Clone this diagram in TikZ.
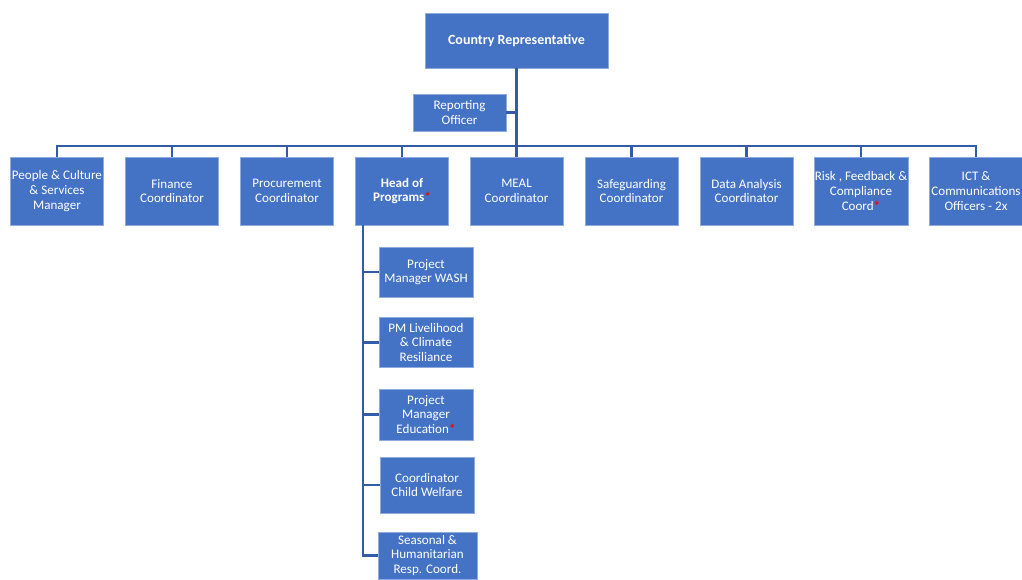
\documentclass[tikz,border=0pt]{standalone}
\usepackage{fontspec}
\setmainfont{Carlito}
\usepackage{xcolor}
\usepackage{tikz}
\usetikzlibrary{positioning}

\definecolor{boxblue}{HTML}{4472C4}
\definecolor{lineblue}{HTML}{335CA8}
\definecolor{edgeblue}{HTML}{8FAADC}
\newcommand{\redstar}{\textcolor{red}{\textbf{*}}}

\begin{document}
\begin{tikzpicture}[
      x=0.75pt, y=-0.75pt,
      every node/.style={font=\fontsize{9.8}{11}\selectfont, text=white, align=center},
      role/.style={rectangle, fill=boxblue, draw=edgeblue, line width=0.4pt,
        minimum width=69.75pt, minimum height=51pt, inner sep=0.5pt},
      subrole/.style={role, minimum width=70.5pt, minimum height=37.5pt},
      link/.style={draw=lineblue, line width=1.6pt}
    ]
      \useasboundingbox (0,0) rectangle (1022,579);

      % top
      \node[role, minimum width=137.25pt, minimum height=41.25pt, font=\fontsize{10.5}{12}\selectfont] (rep) at (516.5,40.5) {\textbf{Country Representative}};
      \node[role, minimum height=27.75pt] (rpt) at (459.5,112.5) {Reporting\\Officer};

      % second row
      \node[role] (c1) at (57,191) {People \& Culture\\\& Services\\Manager};
      \node[role] (c2) at (172,191) {Finance\\Coordinator};
      \node[role] (c3) at (287,191) {Procurement\\Coordinator};
      \node[role] (c4) at (402,191) {\textbf{Head of}\\\textbf{Programs}\redstar};
      \node[role] (c5) at (516.5,191) {MEAL\\Coordinator};
      \node[role] (c6) at (631.5,191) {Safeguarding\\Coordinator};
      \node[role] (c7) at (746.5,191) {Data Analysis\\Coordinator};
      \node[role] (c8) at (861,191) {Risk , Feedback \&\\Compliance\\Coord\redstar};
      \node[role] (c9) at (976,191) {ICT \&\\Communications\\Officers - 2x};

      % programs
      \node[subrole] (s1) at (426,272) {Project\\Manager WASH};
      \node[subrole] (s2) at (426,342.5) {PM Livelihood\\\& Climate\\Resiliance};
      \node[subrole, minimum height=38.25pt] (s3) at (426,414.5) {Project\\Manager\\Education\redstar};
      \node[subrole, minimum height=42pt] (s4) at (427,485) {Coordinator\\Child Welfare};
      \node[subrole, minimum width=74.25pt, minimum height=35.25pt] (s5) at (427.5,555.5) {Seasonal \&\\Humanitarian\\Resp. Coord.};

      % connectors
      \coordinate (bar) at (516.5,146);
      \draw[link] (rep.south) -- (bar);
      \draw[link] (rpt.east) -- (rpt.east -| rep.south);
      \draw[link] (c1.north) -- (c1.north |- bar) -- (c9.north |- bar) -- (c9.north);
      \foreach \n in {2,...,8}
        \draw[link] (c\n.north) -- (c\n.north |- bar);

      \coordinate (spine) at ([xshift=6pt]c4.south west);
      \draw[link] (spine) |- (s5.west);
      \foreach \n in {1,...,4}
        \draw[link] (spine |- s\n.west) -- (s\n.west);
    \end{tikzpicture}
\end{document}
